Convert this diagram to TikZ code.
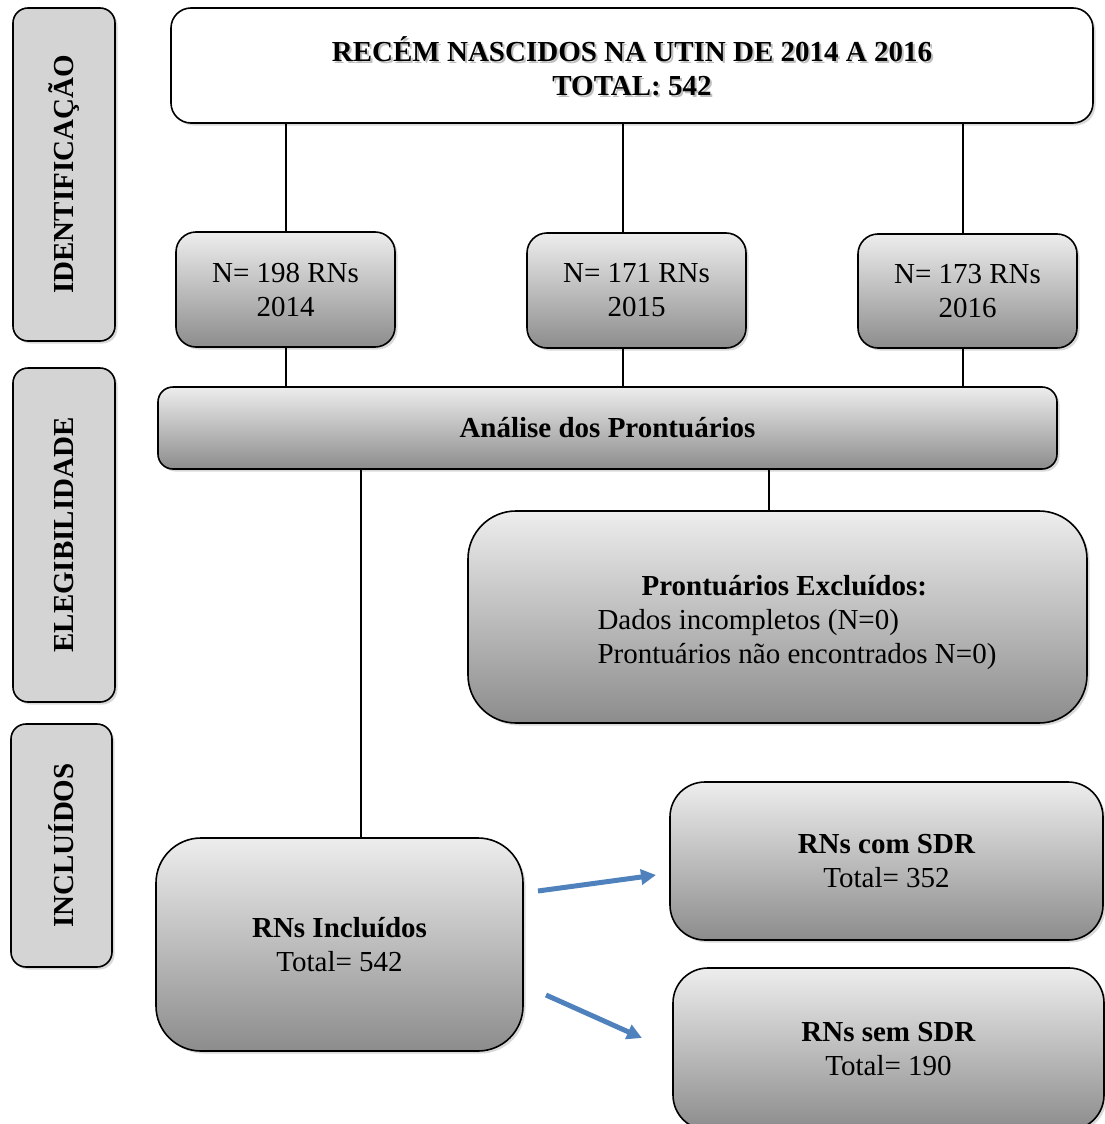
\documentclass[tikz,border=0pt]{standalone}
\usepackage{fontspec}
\setmainfont{Liberation Serif}
\usepackage{xcolor}
\usepackage{tikz}
\usetikzlibrary{arrows.meta}
\usetikzlibrary{shadows}
\definecolor{arrowblue}{RGB}{79,129,189}

\begin{document}
\begin{tikzpicture}[x=1pt,y=-1pt,
    every node/.style={font=\fontsize{29}{34}\selectfont,inner sep=0pt},
    boxshadow/.style={drop shadow={shadow xshift=2.5pt,shadow yshift=-2.5pt,opacity=0.3}},
    box/.style={draw,line width=1.6pt,rounded corners=20pt,top color=black!7,bottom color=black!45,boxshadow,align=center},
    side/.style={draw,line width=1.6pt,rounded corners=15pt,fill=black!17,boxshadow},
    link/.style={line width=1.3pt},
    bluearrow/.style={draw=arrowblue,line width=5pt,-{Triangle[length=15pt,width=15pt]}}]
        \useasboundingbox (0,0) rectangle (1104,1124);
        % fases
        \node[side,minimum width=102pt,minimum height=333pt] (idbox) at (64,174.5) {};
        \node[rotate=90,font=\fontsize{29}{34}\selectfont\bfseries] at (idbox) {IDENTIFICAÇÃO};
        \node[side,minimum width=102pt,minimum height=334pt] (elegbox) at (64,535) {};
        \node[rotate=90,font=\fontsize{29}{34}\selectfont\bfseries] at (elegbox) {ELEGIBILIDADE};
        \node[side,minimum width=101pt,minimum height=243pt] (inclbox) at (61.5,845.5) {};
        \node[rotate=90,font=\fontsize{29}{34}\selectfont\bfseries] at (inclbox) {INCLUÍDOS};
        % caixas
        \node[box,fill=white,top color=white,bottom color=white,minimum width=922pt,minimum height=115pt] (top) at (632,65.5) {};
        \node[align=center,font=\fontsize{29}{34}\selectfont\bfseries,text=black!25] at (634,68)
          {RECÉM NASCIDOS NA UTIN DE 2014 A 2016\\TOTAL: 542};
        \node[align=center,font=\fontsize{29}{34}\selectfont\bfseries] (title) at (632,66)
          {RECÉM NASCIDOS NA UTIN DE 2014 A 2016\\TOTAL: 542};
        \node[box,minimum width=219pt,minimum height=115pt] (y2014) at (285.5,289.5) {N= 198 RNs\\2014};
        \node[box,minimum width=219pt,minimum height=115pt] (y2015) at (636.5,290.5) {N= 171 RNs\\2015};
        \node[box,minimum width=219pt,minimum height=114pt] (y2016) at (967.5,291) {N= 173 RNs\\2016};
        \node[box,rounded corners=15pt,minimum width=899pt,minimum height=82pt] (analise) at (607.5,428)
          {\bfseries Análise dos Prontuários};
        \node[box,rounded corners=48pt,minimum width=619pt,minimum height=212pt] (excl) at (777.5,617) {};
        \node[align=left] (excltext) at (797,623)
          {\hspace*{44pt}\textbf{Prontuários Excluídos:}\\Dados incompletos (N=0)\\Prontuários não encontrados N=0)};
        \node[box,rounded corners=45pt,minimum width=367pt,minimum height=213pt] (incl) at (339.5,944.5)
          {\textbf{RNs Incluídos}\\Total= 542};
        \node[box,rounded corners=35pt,minimum width=433pt,minimum height=158pt] (com) at (886.5,861)
          {\textbf{RNs com SDR}\\Total= 352};
        \node[box,rounded corners=35pt,minimum width=431pt,minimum height=162pt] (sem) at (888.5,1049)
          {\textbf{RNs sem SDR}\\Total= 190};
        % ligacoes
        \foreach \yr/\lx in {2014/286,2015/623,2016/963}{
          \draw[link] (top.south -| \lx,0) -- (y\yr.north -| \lx,0);
          \draw[link] (y\yr.south -| \lx,0) -- (analise.north -| \lx,0);
        }
        \draw[link] (analise.south -| 361,0) -- (incl.north -| 361,0);
        \draw[link] (analise.south -| 769,0) -- (excl.north -| 769,0);
        % setas
        \coordinate (c1) at (538,891);
        \coordinate (c2) at (656,875);
        \coordinate (c3) at (546,995);
        \coordinate (c4) at (642,1038);
        \draw[bluearrow] (c1) -- (c2);
        \draw[bluearrow] (c3) -- (c4);
      \end{tikzpicture}
\end{document}
